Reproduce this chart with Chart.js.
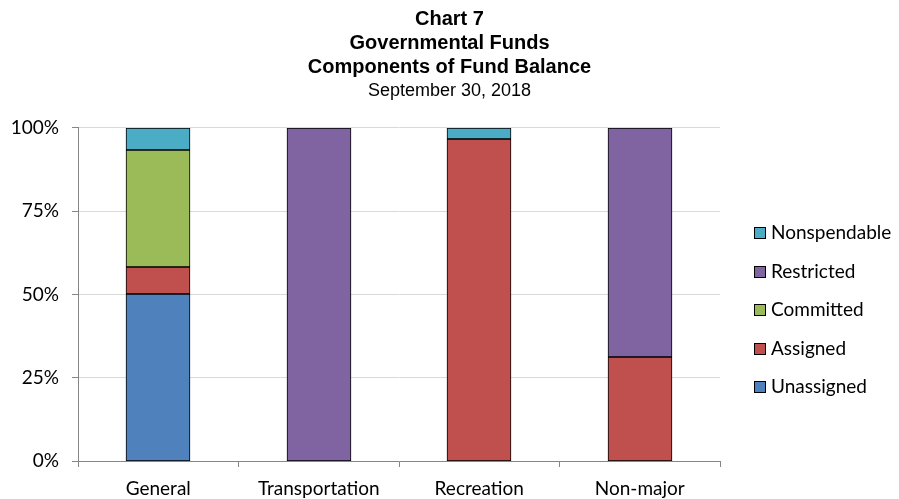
<!DOCTYPE html>
<html>
<head>
<meta charset="utf-8">
<script src="https://cdn.jsdelivr.net/npm/chart.js@4"></script>
<style>
  html, body { margin: 0; padding: 0; background: #fff; }
  #wrap { position: relative; width: 899px; height: 499px; }
  #legend {
    position: absolute; left: 754px; top: 220px;
    margin: 0; padding: 0; list-style: none;
    font: 19px Lato, 'Open Sans', sans-serif; color: #000;
  }
  #legend li { height: 38.5px; line-height: 24px; display: flex; align-items: flex-start; }
  #legend .swatch {
    width: 10px; height: 10px; border: 1px solid #000;
    margin: 7px 5px 0 0; flex: none;
  }
</style>
</head>
<body>
<div id="wrap">
  <canvas id="fundChart" width="899" height="499"></canvas>
  <ul id="legend"></ul>
</div>
<script>
const funds = ["General", "Transportation", "Recreation", "Non-major"];

// share of each fund's balance, in percent
const unassigned   = [50.0, 0, 0, 0];
const assigned     = [8.1, 0, 96.7, 31.3];
const committed    = [35.3, 0, 0, 0];
const restricted   = [0, 100, 0, 68.7];
const nonspendable = [6.6, 0, 3.3, 0];

const yTicks = [0, 25, 50, 75, 100];

const bodyFont = "Lato, 'Open Sans', sans-serif";
const titleFont = "'Liberation Sans', Arial, sans-serif";

function series(label, values, color) {
  return {
    label,
    data: values.map(v => v || null),
    backgroundColor: color,
    borderColor: "#000",
    borderWidth: 1,
    borderSkipped: false,
    barThickness: 64
  };
}

// snap bar edges to whole pixels so the black outlines stay crisp
const snapBars = {
  id: "snapBars",
  afterDatasetsUpdate(chart) {
    chart.data.datasets.forEach((ds, i) => {
      chart.getDatasetMeta(i).data.forEach(bar => {
        bar.x = Math.round(bar.x);
        bar.y = Math.round(bar.y);
        bar.base = Math.round(bar.base);
      });
    });
  }
};

const chart = new Chart(document.getElementById("fundChart"), {
  type: "bar",
  data: {
    labels: funds,
    datasets: [
      series("Unassigned", unassigned, "#4f81bd"),
      series("Assigned", assigned, "#c0504d"),
      series("Committed", committed, "#9bbb59"),
      series("Restricted", restricted, "#8064a2"),
      series("Nonspendable", nonspendable, "#4bacc6")
    ]
  },
  plugins: [snapBars],
  options: {
    responsive: false,
    animation: false,
    layout: { padding: { left: 0, right: 0, bottom: 0, top: 7 } },
    plugins: {
      title: {
        display: true,
        text: ["Chart 7", "Governmental Funds", "Components of Fund Balance"],
        color: "#000",
        font: { family: titleFont, size: 20, weight: "bold", lineHeight: 1.2 },
        padding: 0
      },
      subtitle: {
        display: true,
        text: "September 30, 2018",
        color: "#000",
        font: { family: titleFont, size: 18, lineHeight: 1.33 },
        padding: { top: 0, bottom: 25 }
      },
      legend: { display: false },
      tooltip: { enabled: false }
    },
    scales: {
      x: {
        stacked: true,
        afterFit: s => { s.height = 38; },
        grid: {
          offset: true,
          drawOnChartArea: false,
          drawTicks: true,
          tickLength: 6,
          tickColor: "#868686"
        },
        border: { color: "#868686", width: 1 },
        ticks: {
          color: "#000",
          font: { family: bodyFont, size: 19 },
          padding: 10
        }
      },
      y: {
        stacked: true,
        min: 0,
        max: 100,
        afterFit: s => { s.width = 78; },
        afterBuildTicks: axis => { axis.ticks = yTicks.map(v => ({ value: v })); },
        grid: {
          color: "#d9d9d9",
          tickColor: "#868686",
          tickLength: 6
        },
        border: { color: "#868686", width: 1 },
        ticks: {
          color: "#000",
          font: { family: bodyFont, size: 19 },
          padding: 13,
          callback: v => v + "%"
        }
      },
      // empty right-hand axis keeps room for the legend column
      legendSpace: {
        position: "right",
        display: true,
        afterFit: s => { s.width = 179; },
        grid: { display: false },
        border: { display: false },
        ticks: { display: false }
      }
    }
  }
});

// legend on the right, top entry = last stacked series
const legend = document.getElementById("legend");
chart.data.datasets.slice().reverse().forEach(ds => {
  const li = document.createElement("li");
  li.innerHTML = `<span class="swatch" style="background:${ds.backgroundColor}"></span>${ds.label}`;
  legend.appendChild(li);
});
</script>
</body>
</html>
